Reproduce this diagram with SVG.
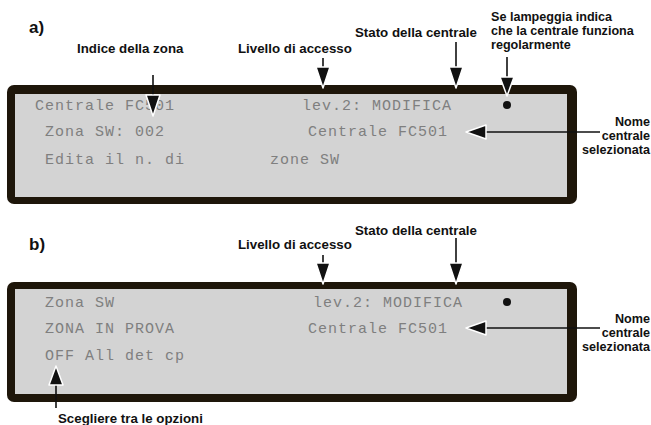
<svg xmlns="http://www.w3.org/2000/svg" width="651" height="425" viewBox="0 0 651 425">
<defs>
<style>
.lbl{font-family:"Liberation Sans",Arial,sans-serif;font-weight:bold;font-size:13.3px;fill:#111}
.lbs{font-family:"Liberation Sans",Arial,sans-serif;font-weight:bold;font-size:12.6px;fill:#111}
.ttl{font-family:"Liberation Sans",Arial,sans-serif;font-weight:bold;font-size:17px;fill:#111}
.lcd{font-family:"Liberation Mono","DejaVu Sans Mono",monospace;font-size:15px;letter-spacing:1px;fill:#7f7f7f}
.frame{fill:#1e160a}
.screen{fill:#d3d3d3}
.ln{stroke:#111;stroke-width:1.6;fill:none}
.hd{fill:#111;stroke:#fff;stroke-width:1.5;stroke-linejoin:round}
</style>
</defs>
<rect width="651" height="425" fill="#fff"/>
<g id="title-a"><text class="ttl" x="29" y="33">a)</text></g>
<g id="title-b"><text class="ttl" x="29" y="250">b)</text></g>
<g id="panel-a">
<rect class="frame" x="7" y="85" width="570" height="119" rx="7"/>
<rect class="screen" x="15" y="94" width="552" height="103"/>
<text class="lcd" x="35" y="110">Centrale FC501</text>
<text class="lcd" x="302" y="110">lev.2: MODIFICA</text>
<text class="lcd" x="45" y="136">Zona SW: 002</text>
<text class="lcd" x="308" y="136">Centrale FC501</text>
<text class="lcd" x="45" y="164">Edita il n. di</text>
<text class="lcd" x="270" y="164">zone SW</text>
<circle cx="507" cy="105" r="4" fill="#111"/>
</g>
<g id="panel-b">
<rect class="frame" x="7" y="282" width="570" height="120" rx="7"/>
<rect class="screen" x="15" y="289" width="552" height="105"/>
<text class="lcd" x="45" y="307">Zona SW</text>
<text class="lcd" x="313" y="307">lev.2: MODIFICA</text>
<text class="lcd" x="45" y="333">ZONA IN PROVA</text>
<text class="lcd" x="308" y="333">Centrale FC501</text>
<text class="lcd" x="45" y="360">OFF All det cp</text>
<circle cx="507" cy="302" r="4" fill="#111"/>
</g>
<g id="labels-a">
<text class="lbl" x="77" y="53">Indice della zona</text>
<text class="lbl" x="238" y="53">Livello di accesso</text>
<text class="lbl" x="355" y="37">Stato della centrale</text>
<text class="lbs" x="491" y="21">Se lampeggia indica</text>
<text class="lbs" x="491" y="35">che la centrale funziona</text>
<text class="lbs" x="491" y="49">regolarmente</text>
<text class="lbs" x="650" y="126" text-anchor="end">Nome</text>
<text class="lbs" x="650" y="140" text-anchor="end">centrale</text>
<text class="lbs" x="650" y="154" text-anchor="end">selezionata</text>
</g>
<g id="labels-b">
<text class="lbl" x="238" y="249">Livello di accesso</text>
<text class="lbl" x="355" y="235">Stato della centrale</text>
<text class="lbs" x="650" y="323" text-anchor="end">Nome</text>
<text class="lbs" x="650" y="337" text-anchor="end">centrale</text>
<text class="lbs" x="650" y="351" text-anchor="end">selezionata</text>
<text class="lbl" x="58" y="423">Scegliere tra le opzioni</text>
</g>
<g id="connectors">
<line class="ln" x1="153" y1="75" x2="153" y2="97"/>
<polygon class="hd" points="146,95 160,95 153,116"/>
<line class="ln" x1="323" y1="58" x2="323" y2="70"/>
<polygon class="hd" points="316,67 330,67 323,88"/>
<line class="ln" x1="456" y1="42" x2="456" y2="70"/>
<polygon class="hd" points="449,67 463,67 456,88"/>
<line class="ln" x1="507" y1="57" x2="507" y2="80"/>
<polygon class="hd" points="500,77 514,77 507,96"/>
<line class="ln" x1="600" y1="132" x2="484" y2="132"/>
<polygon class="hd" points="486,125 486,139 466,132"/>
<line class="ln" x1="323" y1="255" x2="323" y2="266"/>
<polygon class="hd" points="316,263 330,263 323,284"/>
<line class="ln" x1="456" y1="238" x2="456" y2="266"/>
<polygon class="hd" points="449,263 463,263 456,284"/>
<line class="ln" x1="600" y1="328" x2="484" y2="328"/>
<polygon class="hd" points="486,321 486,335 466,328"/>
<line class="ln" x1="56" y1="408" x2="56" y2="382"/>
<polygon class="hd" points="49,385 63,385 56,366"/>
</g>
</svg>
